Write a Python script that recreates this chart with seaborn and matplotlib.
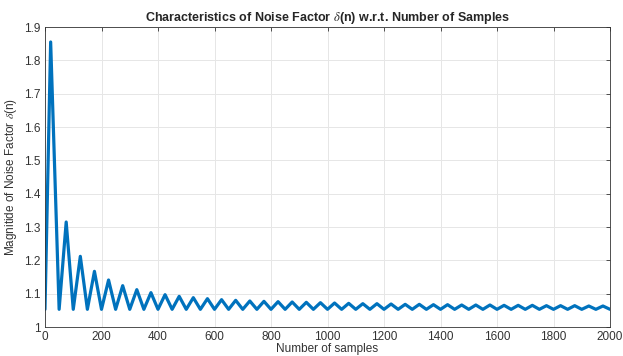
import numpy as np
import pandas as pd
import matplotlib
matplotlib.use("Agg")
import matplotlib.pyplot as plt
import seaborn as sns

# Peak positions / values
peak_n = [20] + [75 + 50 * k for k in range(39)]
peak_val = [1.855, 1.315, 1.212, 1.167, 1.141, 1.124, 1.112, 1.103, 1.097, 1.092,
            1.088, 1.085, 1.082, 1.080, 1.078, 1.077, 1.076, 1.075, 1.074, 1.073,
            1.072, 1.071, 1.070, 1.070, 1.069, 1.068, 1.068, 1.067, 1.067, 1.066,
            1.066, 1.066, 1.065, 1.065, 1.065, 1.064, 1.064, 1.064, 1.063, 1.063]
# Trough positions / values
trough_n = [50 * k for k in range(41)]
trough_val = [1.053] * 41

x_ticks = list(range(0, 2001, 200))
y_ticks = [1.0, 1.1, 1.2, 1.3, 1.4, 1.5, 1.6, 1.7, 1.8, 1.9]
y_tick_labels = ["1", "1.1", "1.2", "1.3", "1.4", "1.5", "1.6", "1.7", "1.8", "1.9"]

df = pd.DataFrame({"n": trough_n + peak_n, "val": trough_val + peak_val}).sort_values("n")

sns.set_style("white")
plt.rcParams["font.family"] = ["Liberation Sans", "DejaVu Sans"]
plt.rcParams["mathtext.fontset"] = "stix"

fig = plt.figure(figsize=(6.23, 3.56), dpi=100)
ax = fig.add_axes([45 / 623, 1 - 327 / 356, 565 / 623, 300 / 356])

sns.lineplot(data=df, x="n", y="val", ax=ax, color="#0072BD", linewidth=2.3,
             sort=False, estimator=None)
for line in ax.lines:
    line.set_solid_joinstyle("round")

ax.set_xlim(0, 2000)
ax.set_ylim(1, 1.9)
ax.set_xticks(x_ticks)
ax.set_xticklabels([str(t) for t in x_ticks])
ax.set_yticks(y_ticks)
ax.set_yticklabels(y_tick_labels)
ax.grid(True, color="#e6e6e6", linewidth=0.7)
ax.set_axisbelow(True)
ax.tick_params(direction="in", length=3, width=0.6, top=True, right=True,
               labelsize=8.5, colors="#333333", pad=3)
for s in ax.spines.values():
    s.set_color("#333333")
    s.set_linewidth(0.6)

ax.set_title(r"Characteristics of Noise Factor $\delta$(n) w.r.t. Number of Samples",
             fontsize=9, fontweight="bold", pad=4)
ax.set_xlabel("Number of samples", fontsize=8.5, color="#333333", labelpad=0)
ax.set_ylabel(r"Magnitide of Noise Factor $\delta$(n)", fontsize=8.5, color="#333333", labelpad=4)

fig.savefig("out.png", dpi=100)
